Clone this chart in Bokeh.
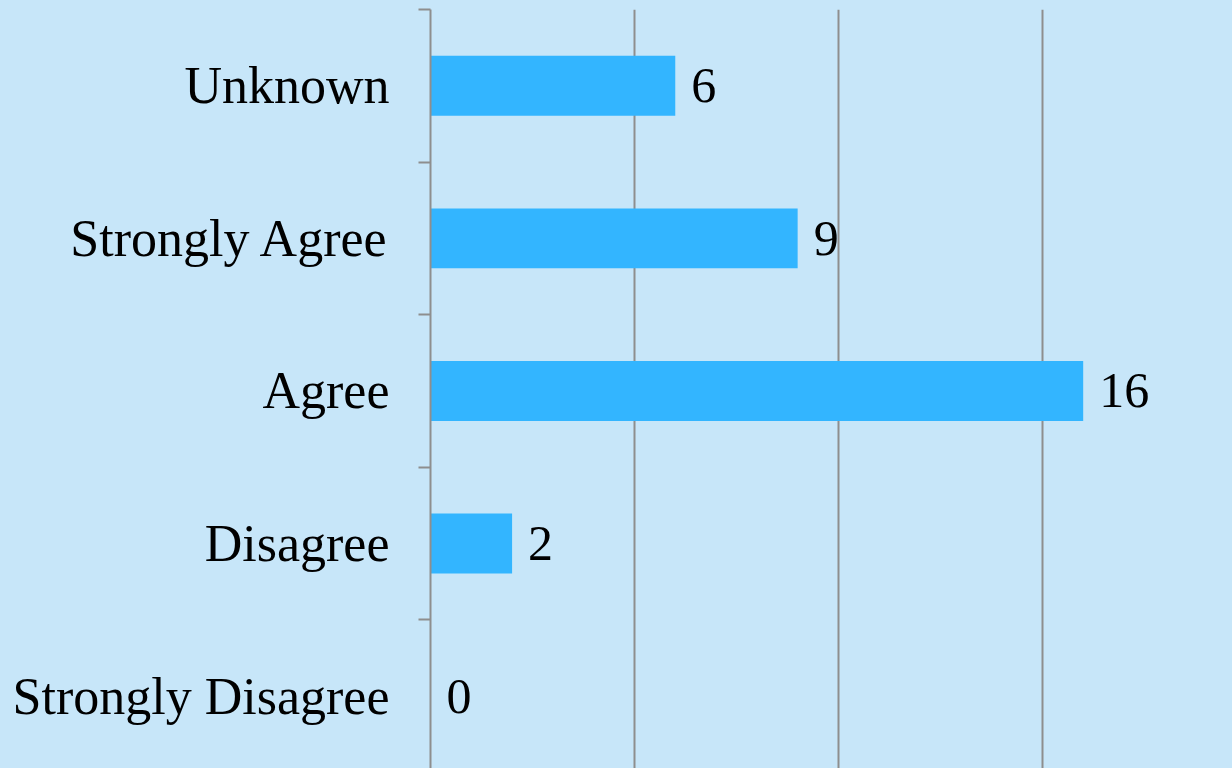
from bokeh.plotting import figure
from bokeh.models import Range1d, FixedTicker, ColumnDataSource
from bokeh.core.properties import value
from bokeh.embed import file_html
from bokeh.resources import INLINE

categories = ["Strongly Disagree", "Disagree", "Agree", "Strongly Agree", "Unknown"]
counts = [0, 2, 16, 9, 6]
grid_ticks = [5, 10, 15]

BG = "#c7e6f9"
BAR = "#33b5ff"
GRAY = "#8e8e8e"
FONT = "Liberation Serif"

pos = list(range(len(categories)))
src = ColumnDataSource(dict(y=pos, v=counts, lbl=[str(c) for c in counts]))

p = figure(width=1232, height=768, output_backend="svg", toolbar_location=None,
           x_range=Range1d(0, 19.66), y_range=Range1d(-0.474, 4.5),
           min_border_left=430, min_border_right=0, min_border_top=9, min_border_bottom=0)
p.background_fill_color = BG
p.border_fill_color = BG
p.outline_line_color = None

p.hbar(y="y", left=0, right="v", height=0.393, source=src, fill_color=BAR, line_color=None)
p.text(x="v", y="y", text="lbl", source=src, x_offset=16, text_baseline="middle",
       text_align="left", text_font=value(FONT), text_font_size="50px", text_color="#000000")

p.xaxis.visible = False
p.xgrid.ticker = FixedTicker(ticks=grid_ticks)
p.xgrid.grid_line_color = GRAY
p.xgrid.grid_line_width = 2
p.ygrid.visible = False

ya = p.yaxis[0]
ya.ticker = FixedTicker(ticks=pos, minor_ticks=[i + 0.5 for i in pos])
ya.major_label_overrides = {i: c for i, c in zip(pos, categories)}
ya.major_tick_out = 0
ya.major_tick_in = 0
ya.minor_tick_out = 12
ya.minor_tick_in = 0
ya.minor_tick_line_color = GRAY
ya.minor_tick_line_width = 2
ya.axis_line_color = GRAY
ya.axis_line_width = 2
ya.major_label_standoff = 29
ya.major_label_text_font = FONT
ya.major_label_text_font_size = "52px"
ya.major_label_text_color = "#000000"

html = file_html(p, INLINE, title="Responses")
html = html.replace("</head>", "<style>html,body{margin:0;padding:0;background:%s;overflow:hidden}</style></head>" % BG, 1)
open("out.html", "w").write(html)
